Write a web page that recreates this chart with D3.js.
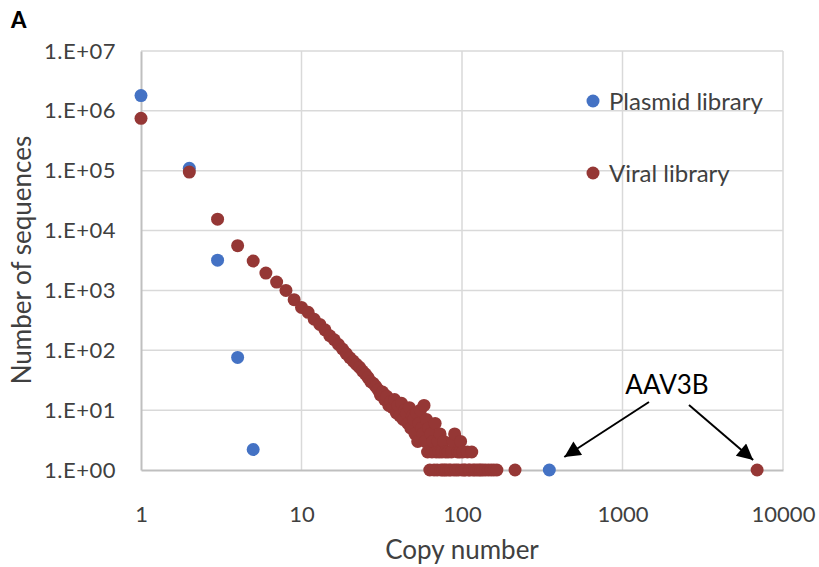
<!DOCTYPE html>
<html>
<head>
<meta charset="utf-8">
<script src="https://cdn.jsdelivr.net/npm/d3@7"></script>
<style>
  body { margin: 0; background: #fff; }
  text { font-family: Lato, "Open Sans", sans-serif; }
</style>
</head>
<body>
<div id="chart"></div>
<script>
// copy number -> number of sequences
var plasmidCopy = [1, 2, 3, 4, 5, 350]
var plasmidCount = [1800000, 110000, 3200, 76, 2.2, 1]

var viralCopy = [1, 2, 3, 4, 5, 6, 7, 8, 9, 10,
    11, 12, 13, 14, 15, 16, 17, 18, 19, 20,
    21, 22, 23, 24, 25, 26, 27, 28, 29, 30,
    31, 32, 33, 34, 35, 36, 37, 38, 39, 40,
    41, 42, 43, 44, 45, 46, 47, 48, 49, 50,
    51, 52, 53, 54, 55, 56, 57, 58, 59, 60,
    61, 62, 63, 64, 65, 66, 67, 68, 69, 70,
    71, 72, 73, 74, 75, 76, 77, 78, 79, 80,
    82, 83, 85, 86, 88, 89, 90, 92, 94, 95,
    97, 98, 100, 101, 103, 105, 108, 110, 112, 115,
    117, 120, 124, 128, 131, 135, 140, 146, 152, 158,
    165, 214, 6900]
var viralCount = [750000, 95000, 15500, 5600, 3100, 1950, 1380, 1000, 700, 520,
    430, 330, 270, 220, 175, 150, 125, 105, 88, 75,
    66, 58, 52, 45, 40, 35, 30, 28, 25, 22,
    18, 20, 15, 17, 12, 14, 11, 15, 9, 12,
    8, 13, 7, 10, 9, 6, 11, 5, 8, 7,
    4, 9, 3, 6, 10, 5, 4, 12, 3, 7,
    2, 5, 1, 4, 2, 3, 1, 6, 2, 1,
    3, 2, 4, 1, 2, 1, 3, 1, 2, 1,
    2, 1, 1, 2, 3, 1, 4, 1, 2, 1,
    2, 3, 1, 2, 1, 1, 2, 1, 1, 2,
    1, 1, 1, 1, 1, 1, 1, 1, 1, 1,
    1, 1, 1]

var xTicks = [1, 10, 100, 1000, 10000]
var yTicks = [1, 10, 100, 1000, 10000, 100000, 1000000, 10000000]
var seriesNames = ["Plasmid library", "Viral library"]
var seriesColors = ["#4472c4", "#953735"]

var width = 819, height = 567
var plot = {left: 141, right: 783, top: 51, bottom: 470}

var svg = d3.select("#chart").append("svg")
    .attr("width", width).attr("height", height)

var x = d3.scaleLog().domain([1, 10000]).range([plot.left, plot.right])
var y = d3.scaleLog().domain([1, 10000000]).range([plot.bottom, plot.top])

// gridlines
svg.append("g").selectAll("line").data(xTicks.slice(1)).join("line")
    .attr("x1", d => x(d)).attr("x2", d => x(d))
    .attr("y1", plot.top).attr("y2", plot.bottom)
    .attr("stroke", "#d9d9d9").attr("stroke-width", 1.5)
svg.append("g").selectAll("line").data(yTicks.slice(1)).join("line")
    .attr("x1", plot.left).attr("x2", plot.right)
    .attr("y1", d => y(d)).attr("y2", d => y(d))
    .attr("stroke", "#d9d9d9").attr("stroke-width", 1.5)

// axes
var fmt = d => "1.E+" + String(Math.round(Math.log10(d))).padStart(2, "0")
var yAxis = svg.append("g").attr("transform", "translate(" + plot.left + ",0)")
    .call(d3.axisLeft(y).tickValues(yTicks).tickFormat(fmt).tickSize(0).tickPadding(25))
var xAxis = svg.append("g").attr("transform", "translate(0," + plot.bottom + ")")
    .call(d3.axisBottom(x).tickValues(xTicks).tickFormat(d3.format("d")).tickSize(0).tickPadding(36))
;[yAxis, xAxis].forEach(function(a) {
    a.select(".domain").attr("stroke", "#bfbfbf").attr("stroke-width", 2)
    a.selectAll("text").attr("fill", "#404040").style("font-size", "22px")
        .style("font-family", "Lato, 'Open Sans', sans-serif")
})
yAxis.selectAll("text").style("letter-spacing", "0.5px")

// points
var plasmid = d3.zip(plasmidCopy, plasmidCount)
var viral = d3.zip(viralCopy, viralCount)
svg.append("g").selectAll("circle").data(plasmid).join("circle")
    .attr("cx", d => x(d[0])).attr("cy", d => y(d[1])).attr("r", 6.5)
    .attr("fill", seriesColors[0])
svg.append("g").selectAll("circle").data(viral).join("circle")
    .attr("cx", d => x(d[0])).attr("cy", d => y(d[1])).attr("r", 6.5)
    .attr("fill", seriesColors[1])

// legend
var legend = svg.append("g").selectAll("g").data(seriesNames).join("g")
    .attr("transform", (d, i) => "translate(593," + (101 + i * 72) + ")")
legend.append("circle").attr("r", 6.5).attr("fill", (d, i) => seriesColors[i])
legend.append("text").attr("x", 16).attr("y", 9).text(d => d)
    .attr("fill", "#404040").style("font-size", "24px")

// axis titles
svg.append("text").attr("x", 462).attr("y", 559)
    .attr("text-anchor", "middle").attr("fill", "#404040").style("font-size", "26px")
    .text("Copy number")
svg.append("text").attr("transform", "translate(31,260) rotate(-90)")
    .attr("text-anchor", "middle").attr("fill", "#404040").style("font-size", "26px")
    .text("Number of sequences")

// panel letter
svg.append("text").attr("x", 11).attr("y", 28)
    .attr("font-weight", 900).attr("fill", "#000")
    .style("font-size", "22px").text("A")

// AAV3B annotation
svg.append("defs").append("marker").attr("id", "head")
    .attr("viewBox", "0 0 10 10").attr("refX", 10).attr("refY", 5)
    .attr("markerWidth", 10).attr("markerHeight", 8).attr("orient", "auto")
    .attr("markerUnits", "strokeWidth")
    .append("path").attr("d", "M0,0L10,5L0,10Z").attr("fill", "#000")
svg.append("text").attr("x", 667).attr("y", 394).attr("text-anchor", "middle")
    .style("font-size", "26px").text("AAV3B")
var arrowEnds = [[x(350) + 15, y(1) - 13], [x(6900) - 4, y(1) - 10]]
var arrowStarts = [[649, 402], [689, 405]]
svg.append("g").selectAll("line").data(arrowEnds).join("line")
    .attr("x1", (d, i) => arrowStarts[i][0]).attr("y1", (d, i) => arrowStarts[i][1])
    .attr("x2", d => d[0]).attr("y2", d => d[1])
    .attr("stroke", "#000").attr("stroke-width", 2)
    .attr("marker-end", "url(#head)")
</script>
</body>
</html>
